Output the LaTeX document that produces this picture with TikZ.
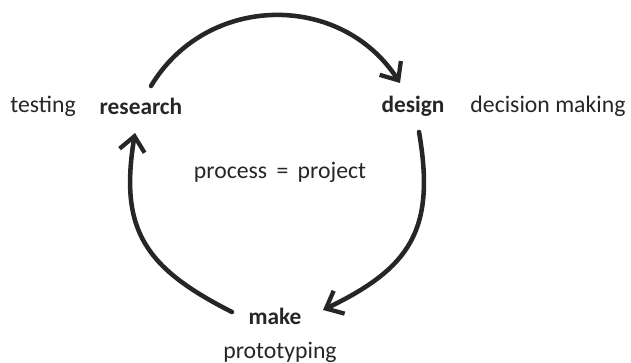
\documentclass[tikz,border=0pt]{standalone}
\usepackage{fontspec}
\setmainfont{Carlito}
\usetikzlibrary{arrows.meta}
\begin{document}
\begin{tikzpicture}[x=0.75pt,y=-0.75pt,
  note/.style={font=\fontsize{17.8}{20}\selectfont, inner sep=0pt, text=black!85},
  stage/.style={font=\bfseries\fontsize{17.5}{20}\selectfont, inner sep=0pt, text=black!85},
  flow/.style={line width=3.4pt, draw=black!85, line cap=round,
    -{Straight Barb[length=11pt,width=19pt,line width=3.2pt]}}]
\useasboundingbox (0,0) rectangle (631,363);

% stages of the cycle
\node[stage] (research) at (141,106) {research};
\node[stage] (design)   at (413,106) {design};
\node[stage] (make)     at (275,316) {make};

% activities beside each stage
\node[note] (testing)   at (43,106)  {testing};
\node[note] (decision)  at (548,106) {decision making};
\node[note] (proto)     at (280,352) {prototyping};
\node[note] (centre)    at (280,172) {process\, =\, project};

% anchor points of the three arcs
\coordinate (r1) at (151,86);
\coordinate (d0) at (400,83);
\coordinate (d1) at (419,132);
\coordinate (m0) at (323,310);
\coordinate (m1) at (232,312);
\coordinate (r0) at (135,133);

\draw[flow] (r1) .. controls (207,-7) and (341,-8) .. (d0);
\draw[flow] (d1) .. controls (436,230) and (410,268) .. (m0);
\draw[flow] (m1) .. controls (145,268) and (119,230) .. (r0);
\end{tikzpicture}
\end{document}
